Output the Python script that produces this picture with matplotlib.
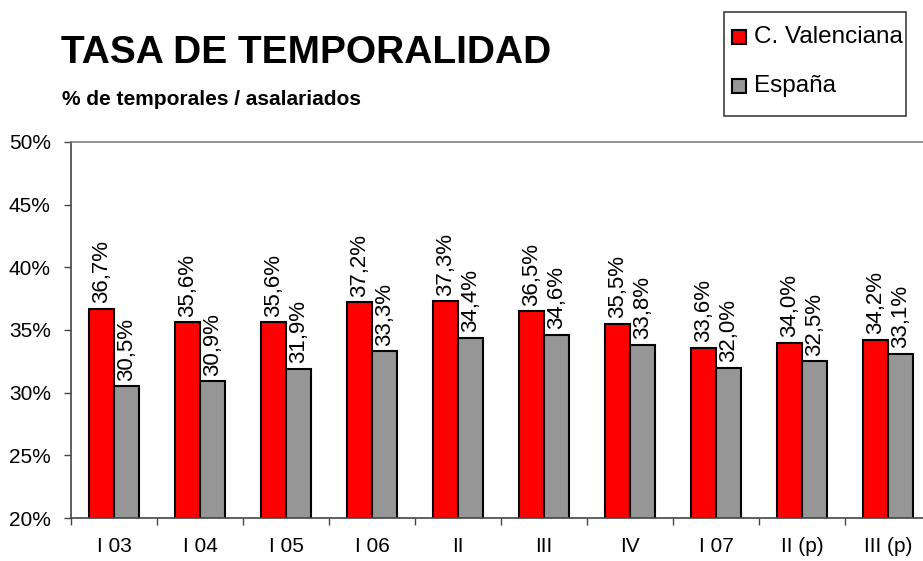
import matplotlib.pyplot as plt
from matplotlib.patches import Rectangle
import numpy as np

plt.rcParams["font.family"] = ["Liberation Sans", "DejaVu Sans"]

# Data
categories = ["I 03", "I 04", "I 05", "I 06", "II", "III", "IV", "I 07", "II (p)", "III (p)"]
valenciana = [36.7, 35.6, 35.6, 37.2, 37.3, 36.5, 35.5, 33.6, 34.0, 34.2]
espana = [30.5, 30.9, 31.9, 33.3, 34.4, 34.6, 33.8, 32.0, 32.5, 33.1]
series_names = ["C. Valenciana", "España"]
series_colors = ["#FF0000", "#969696"]

W, H = 923, 561
fig = plt.figure(figsize=(W / 100, H / 100), dpi=100)
ax = fig.add_axes([71 / W, 43 / H, 860 / W, 376 / H])

x = np.arange(len(categories))
w = 0.295
b1 = ax.bar(x - w / 2, valenciana, w, color=series_colors[0], edgecolor="black", linewidth=1.5)
b2 = ax.bar(x + w / 2, espana, w, color=series_colors[1], edgecolor="black", linewidth=1.5)

for bars, vals in ((b1, valenciana), (b2, espana)):
    for bar, v in zip(bars, vals):
        ax.annotate(f"{v:.1f}%".replace(".", ","),
                    (bar.get_x() + bar.get_width() / 2, v),
                    xytext=(0, 4), textcoords="offset points",
                    rotation=90, ha="center", va="bottom", fontsize=16)

ax.set_ylim(20, 50)
ax.set_xlim(-0.5, len(categories) - 0.5)
ax.set_yticks(np.arange(20, 51, 5))
ax.set_yticklabels([f"{t}%" for t in range(20, 51, 5)], fontsize=15)
ax.set_xticks(x)
ax.set_xticklabels(categories, fontsize=15)
ax.set_xticks(np.arange(-0.5, len(categories), 1), minor=True)
ax.tick_params(axis="x", which="major", length=0, pad=14)
ax.tick_params(axis="x", which="minor", length=5, width=1, color="#444444", direction="out")
ax.tick_params(axis="y", length=5, width=1, color="#444444", direction="out", pad=9.5)

ax.spines["top"].set_color("#808080")
ax.spines["right"].set_visible(False)
ax.spines["left"].set_color("#444444")
ax.spines["bottom"].set_color("#444444")
for s in ("top", "left", "bottom"):
    ax.spines[s].set_linewidth(1.2)

# titles
fig.text(61 / W, 1 - 63 / H, "TASA DE TEMPORALIDAD", fontsize=28, fontweight="bold",
         va="baseline", ha="left")
fig.text(62 / W, 1 - 105 / H, "% de temporales / asalariados", fontsize=15, fontweight="bold",
         va="baseline", ha="left")

# legend box
fig.patches.append(Rectangle((724 / W, 1 - 116 / H), 182 / W, 104 / H, transform=fig.transFigure,
                             facecolor="white", edgecolor="#404040", linewidth=1.2))
for i, (name, col) in enumerate(zip(series_names, series_colors)):
    yc = 37 + i * 49
    fig.patches.append(Rectangle((732 / W, 1 - (yc + 7) / H), 14 / W, 14 / H,
                                 transform=fig.transFigure, facecolor=col,
                                 edgecolor="black", linewidth=1.5))
    fig.text(754 / W, 1 - yc / H, name, fontsize=17.5, va="center", ha="left")

fig.savefig("out.png", dpi=100)
